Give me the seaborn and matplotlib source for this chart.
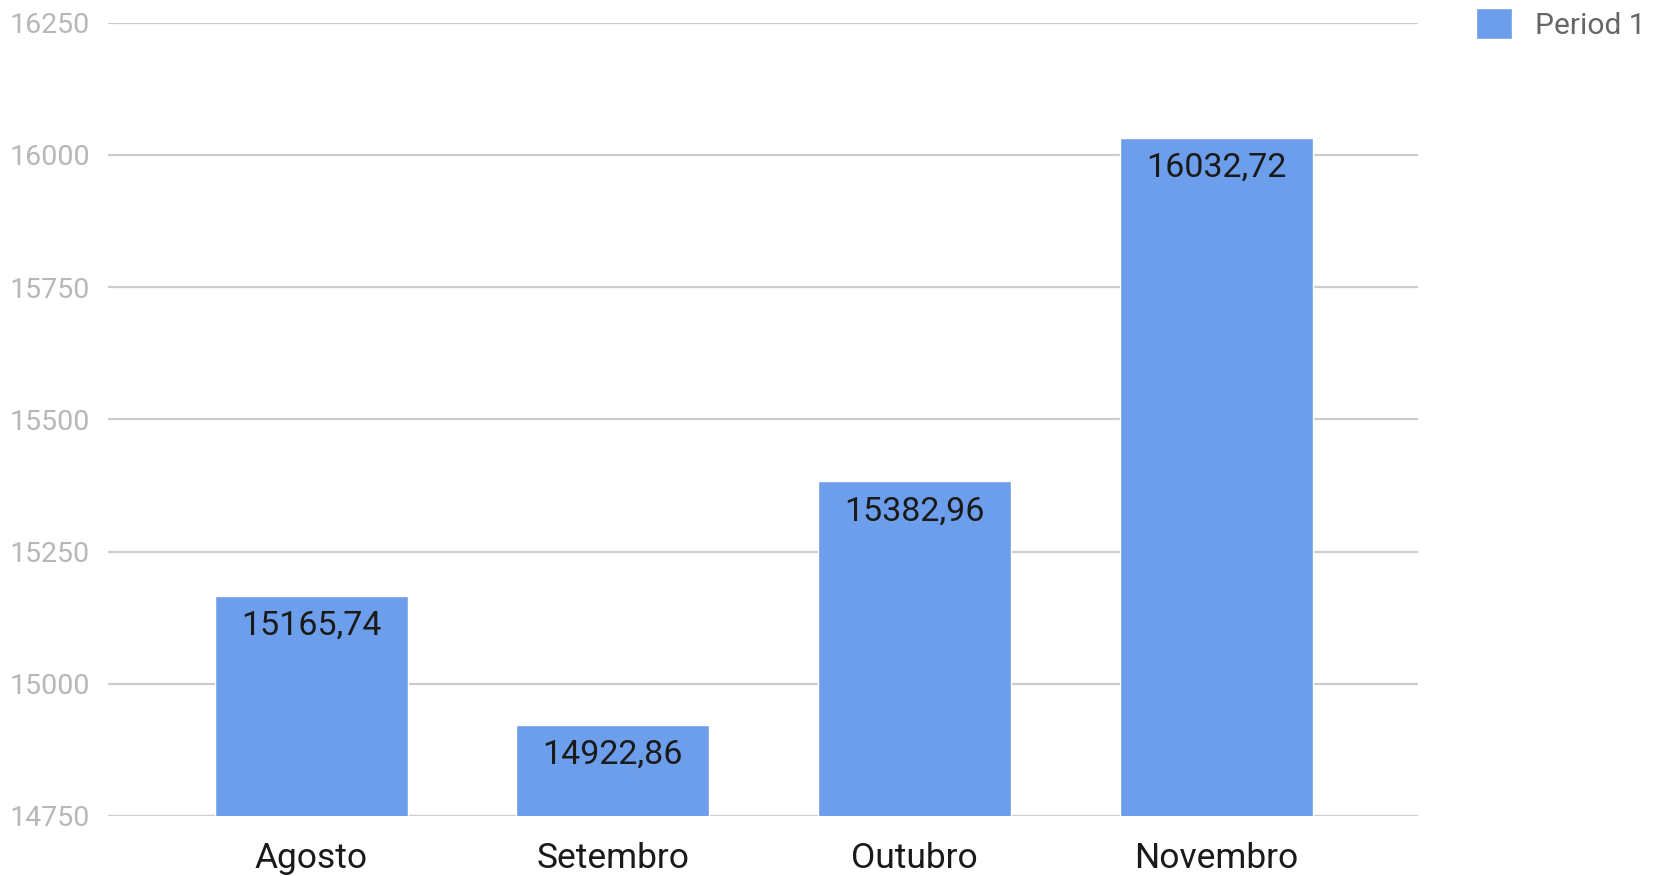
import matplotlib
matplotlib.use("Agg")
import matplotlib.pyplot as plt
import seaborn as sns
import pandas as pd

months = ["Agosto", "Setembro", "Outubro", "Novembro"]
values = [15165.74, 14922.86, 15382.96, 16032.72]
labels = ["15165,74", "14922,86", "15382,96", "16032,72"]
yticks = [14750, 15000, 15250, 15500, 15750, 16000, 16250]

sns.set_style("white")
plt.rcParams["font.family"] = ["Roboto", "DejaVu Sans"]

df = pd.DataFrame({"month": months, "value": values})

fig = plt.figure(figsize=(16.53, 8.76), dpi=100)
ax = fig.add_axes([0.0653, 0.0685, 0.7927, 0.9055])

sns.barplot(data=df, x="month", y="value", color="#6d9eeb", saturation=1,
            width=0.64, ax=ax, label="Period 1", zorder=3)

ax.set_ylim(14750, 16250)
ax.set_xlim(-0.674, 3.67)
ax.set_yticks(yticks)
ax.set_yticklabels([str(t) for t in yticks])
ax.grid(axis="y", color="#cccccc", linewidth=1.6, zorder=0)
for s in ax.spines.values():
    s.set_visible(False)
ax.set_xlabel("")
ax.set_ylabel("")
ax.tick_params(axis="y", length=0, pad=13, labelsize=20.5, labelcolor="#b7b7b7")
ax.tick_params(axis="x", length=0, pad=19, labelsize=25.5, labelcolor="#1a1a1a")

for i, (v, t) in enumerate(zip(values, labels)):
    ax.annotate(t, (i, v), xytext=(0, -10), textcoords="offset points",
                ha="center", va="top", fontsize=24.5, color="#1a1a1a")

ax.legend(loc="upper left", bbox_to_anchor=(0.8855, 1.004), bbox_transform=fig.transFigure,
          frameon=False, fontsize=21.5, labelcolor="#666666", handlelength=1.2,
          handleheight=1.2, handletextpad=0.8, borderaxespad=0)

fig.savefig("out.png", dpi=100)
